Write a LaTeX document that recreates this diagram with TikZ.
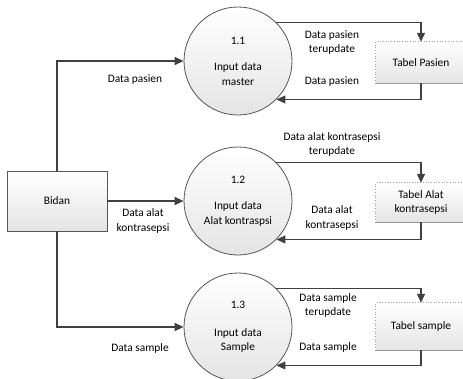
\documentclass[tikz,border=0pt]{standalone}
\usepackage{fontspec}
\setmainfont{Carlito}
\usetikzlibrary{arrows.meta,shadings}
\definecolor{lineC}{HTML}{404040}
\definecolor{edgeC}{HTML}{555555}
\definecolor{fillB}{HTML}{E4E4E4}
\tikzset{
  flow/.style={draw=lineC, line width=1.4pt, -{Triangle[length=9pt,width=8pt]}},
  proc/.style={circle, draw=edgeC, line width=0.8pt, minimum size=108pt, inner sep=0pt,
    top color=white, bottom color=fillB, align=center},
  ext/.style={rectangle, draw=edgeC, line width=0.9pt, minimum width=100pt, minimum height=60pt,
    top color=white, bottom color=fillB, align=center},
  store/.style={rectangle, minimum width=90pt, inner sep=0pt,
    top color=white, bottom color=fillB, align=center},
  lbl/.style={align=center, inner sep=0pt, text=black},
}
\begin{document}
\begin{tikzpicture}[x=1pt,y=-1pt,font=\fontsize{11.4}{14.5}\selectfont]
\useasboundingbox (0,0) rectangle (463,378);
% external entity
\node[ext] (bidan) at (57,201) {Bidan};
% processes
\node[proc] (p1) at (238,61) {1.1\\[12pt]Input data\\master};
\node[proc] (p2) at (238,201) {1.2\\[12pt]Input data\\Alat kontraspsi};
\node[proc] (p3) at (238,327) {1.3\\[13pt]Input data\\Sample};
% data stores
\node[store, minimum height=41pt] (t1) at (421,62.5) {Tabel Pasien};
\node[store, minimum height=39pt] (t2) at (421,202.5) {Tabel Alat\\kontrasepsi};
\node[store, minimum height=47pt] (t3) at (421,326.5) {Tabel sample};
\foreach \t in {t1,t2,t3}{
  \draw[gray!75, line width=0.7pt, dotted] (\t.south west) -- (\t.north west) -- (\t.north east);
  \draw[gray!80, line width=1.3pt] (\t.south west) -- (\t.south east);
}
% flows from Bidan
\draw[flow] (bidan.north) |- (p1.west);
\draw[flow] (bidan.east) -- (p2.west);
\draw[flow] (bidan.south) |- (p3.west);
% flows to and from stores
\draw[flow] (p1.45) -| (t1.north);
\draw[flow] (t1.south) |- (p1.-45);
\draw[flow] (p2.45) -| (t2.north);
\draw[flow] (t2.south) |- (p2.-45);
\draw[flow] (p3.45) -| (t3.north);
\draw[flow] (t3.south) |- (p3.-45);
% labels
\node[lbl] (l1) at (135,79) {Data pasien};
\node[lbl] (l2) at (143,221) {Data alat\\kontrasepsi};
\node[lbl] (l3) at (140,348) {Data sample};
\node[lbl] (r1a) at (332,42.5) {Data pasien\\terupdate};
\node[lbl] (r1b) at (332,81) {Data pasien};
\node[lbl] (r2a) at (332,144.5) {Data alat kontrasepsi\\terupdate};
\node[lbl] (r2b) at (332,218) {Data alat\\kontrasepsi};
\node[lbl] (r3a) at (328,305.5) {Data sample\\terupdate};
\node[lbl] (r3b) at (328,347) {Data sample};
\end{tikzpicture}
\end{document}
